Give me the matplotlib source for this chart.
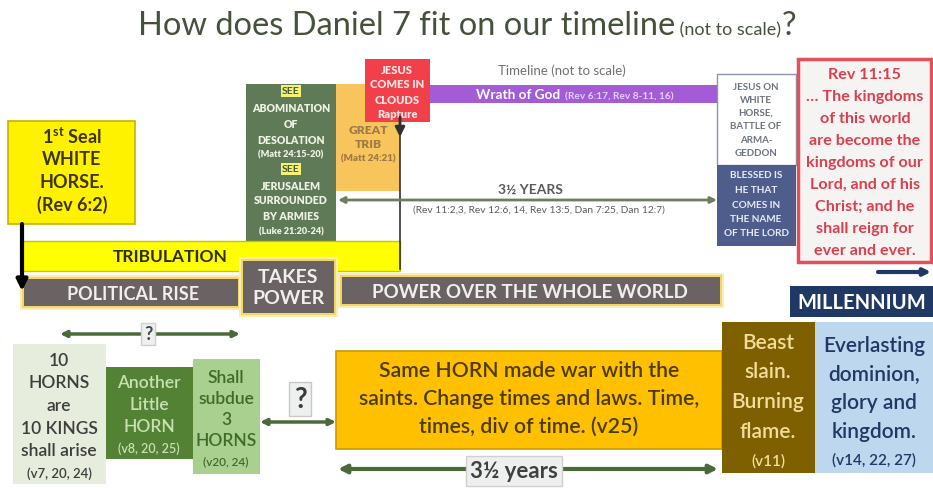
import matplotlib
matplotlib.use("Agg")
import matplotlib.pyplot as plt
from matplotlib.patches import Rectangle

plt.rcParams['font.family'] = ['Lato', 'DejaVu Sans']
plt.rcParams['mathtext.fontset'] = 'custom'
plt.rcParams['mathtext.rm'] = 'Lato'
plt.rcParams['mathtext.bf'] = 'Lato:bold'

# ---- text content ----
title_main = "How does Daniel 7 fit on our timeline"
title_note = "(not to scale)"
seal_lines = [r"1$^{\mathbf{st}}$ Seal", "WHITE", "HORSE.", "(Rev 6:2)"]
abom_lines = ["SEE", "ABOMINATION", "OF", "DESOLATION", "(Matt 24:15-20)",
              "SEE", "JERUSALEM", "SURROUNDED", "BY ARMIES", "(Luke 21:20-24)"]
trib_lines = ["GREAT", "TRIB", "(Matt 24:21)"]
clouds_lines = ["JESUS", "COMES IN", "CLOUDS", "Rapture"]
wrath_label = "Wrath of God"
wrath_refs = "(Rev 6:17, Rev 8-11, 16)"
timeline_note = "Timeline (not to scale)"
horse_lines = ["JESUS ON", "WHITE", "HORSE,", "BATTLE OF", "ARMA-", "GEDDON"]
blessed_lines = ["BLESSED IS", "HE THAT", "COMES IN", "THE NAME", "OF THE LORD"]
rev_lines = ["Rev 11:15", "\u2026 The kingdoms", "of this world", "are become the",
             "kingdoms of our", "Lord, and of his", "Christ; and he",
             "shall reign for", "ever and ever."]
years_label = "3\u00bd YEARS"
years_refs = "(Rev 11:2,3, Rev 12:6, 14, Rev 13:5, Dan 7:25, Dan 12:7)"
bars = ["TRIBULATION", "POLITICAL RISE", "TAKES\nPOWER",
        "POWER OVER THE WHOLE WORLD", "MILLENNIUM"]
horns10_lines = ["10", "HORNS", "are", "10 KINGS", "shall arise", "(v7, 20, 24)"]
little_lines = ["Another", "Little", "HORN", "(v8, 20, 25)"]
subdue_lines = ["Shall", "subdue", "3", "HORNS", "(v20, 24)"]
war_lines = ["Same HORN made war with the",
             "saints. Change times and laws. Time,",
             "times, div of time. (v25)"]
beast_lines = ["Beast", "slain.", "Burning", "flame.", "(v11)"]
everlasting_lines = ["Everlasting", "dominion,", "glory and", "kingdom.", "(v14, 22, 27)"]
half_years = "3\u00bd years"

fig = plt.figure(figsize=(9.33, 4.89), dpi=100)
ax = fig.add_axes([0, 0, 1, 1])
ax.set_xlim(0, 933)
ax.set_ylim(489, 0)
ax.axis('off')


def box(x0, y0, x1, y1, fc, ec=None, lw=0.0, z=2):
    ax.add_patch(Rectangle((x0, y0), x1 - x0, y1 - y0, fc=fc,
                           ec=ec if ec else fc, lw=lw, zorder=z))


def glow_box(x0, y0, x1, y1, fc, z=3):
    box(x0 - 4, y0 - 4, x1 + 4, y1 + 4, '#fbeeb0', z=z)
    box(x0 - 2, y0 - 2, x1 + 2, y1 + 2, '#f2d66a', z=z)
    box(x0, y0, x1, y1, fc, z=z)


def stack(xc, y0, dy, lines, size, color, weight='bold', sizes=None, z=5):
    for i, t in enumerate(lines):
        s = sizes[i] if sizes else size
        ax.text(xc, y0 + i * dy, t, fontsize=s, color=color, fontweight=weight,
                ha='center', va='center', zorder=z)


def arrow(x0, y0, x1, y1, color, lw=3, style='<|-|>', ms=12, z=4):
    ax.annotate('', xy=(x1, y1), xytext=(x0, y0), zorder=z,
                arrowprops=dict(arrowstyle=style, color=color, lw=lw,
                                mutation_scale=ms, shrinkA=0, shrinkB=0))


def seq_text(xc, y, parts):
    objs = [ax.text(0, y, t, fontsize=s, color=c, fontweight=w,
                    va='baseline', ha='left', zorder=6) for t, s, c, w in parts]
    fig.canvas.draw()
    r = fig.canvas.get_renderer()
    widths = [o.get_window_extent(r).width for o in objs]
    x = xc - sum(widths) / 2
    for o, wd in zip(objs, widths):
        o.set_x(x)
        x += wd


# ---- title ----
tc = '#45513b'
seq_text(467, 35, [(title_main, 23.5, tc, 'normal'), (" " + title_note, 13, tc, 'normal'),
                   ("?", 23.5, tc, 'normal')])

# ---- upper section ----
# 1st seal
box(8, 122, 135, 225, '#fff200', '#c8b200', 1.2)
stack(72, 137, 22.5, seal_lines, 13, '#3d3500', 'bold')
arrow(22, 225, 22, 292, 'black', lw=3, style='-|>', ms=16)

# abomination
box(246, 85, 336, 242, '#5e7a56')
for i, t in enumerate(abom_lines):
    y = [92, 108, 124, 140, 155, 170, 186, 201, 217, 232][i]
    if t == "SEE":
        ax.text(291, y, t, fontsize=7.5, color='#4a5a30', fontweight='bold',
                ha='center', va='center', zorder=6,
                bbox=dict(boxstyle='square,pad=0.1', fc='#f5f07a', ec='none'))
    else:
        ax.text(291, y, t, fontsize=6.6 if t.startswith('(') else 7.6,
                color='#eef2e4', fontweight='heavy', ha='center', va='center', zorder=6)

# great trib
box(336, 85, 400, 192, '#f8c45c')
stack(368, 130, 14.5, trib_lines, 8.5, '#a07a45', 'heavy', sizes=[8.7, 8.7, 7])

# jesus comes in clouds
box(365, 60, 430, 123, '#f2404a')
stack(397, 70, 15, clouds_lines, 8, '#ffe2e2', 'heavy')
ax.plot([400, 400], [123, 270], color='#303030', lw=1.2, zorder=4)
arrow(400, 118, 400, 138, '#303030', lw=2, style='-|>', ms=14, z=6)

# wrath of god
box(430, 86, 718, 104, '#a35bd6')
seq_text(575, 99, [(wrath_label, 9.8, 'white', 'bold'), ("  " + wrath_refs, 7.3, '#e6cdf7', 'bold')])
ax.text(562, 71, timeline_note, fontsize=9.5, color='#707070', ha='center', va='center')

# jesus on white horse / blessed
box(717, 75, 796, 166, 'white', '#8a96a8', 1.0)
stack(756, 87, 13.3, horse_lines, 7, '#6c7380', 'bold')
box(717, 166, 796, 247, '#4f5d8c')
stack(756, 176, 14.5, blessed_lines, 7.2, '#e8ebf5', 'bold')

# rev 11:15
box(798, 60, 931, 263, '#f6f3f3', '#e2505c', 2.5)
stack(865, 75, 22, rev_lines, 11.6, '#d9404f', 'bold')

# 3 1/2 YEARS
arrow(338, 201, 717, 201, '#6f7d5c', lw=2, style='<|-|>', ms=9)
ax.text(530, 190, years_label, fontsize=10, color='#5a5a5a', fontweight='bold',
        ha='center', va='center')
ax.text(539, 210, years_refs, fontsize=7.3, color='#5a5a5a', ha='center', va='center')

# tribulation bar
box(22, 242, 400, 272, '#ffff00', '#c9c600', 1.0, z=2)
ax.text(170, 257, bars[0], fontsize=12.5, color='#2e2e10', fontweight='bold',
        ha='center', va='center', zorder=5)

# political rise / takes power / power over world
glow_box(24, 280, 238, 307, '#6b6363')
ax.text(133, 294, bars[1], fontsize=13, color='#f0eeee', fontweight='bold',
        ha='center', va='center', zorder=6)
glow_box(342, 278, 720, 305, '#6b6363')
ax.text(530, 292, bars[3], fontsize=13.5, color='#f0eeee', fontweight='bold',
        ha='center', va='center', zorder=6)
glow_box(243, 262, 334, 314, '#6b6363', z=4)
ax.text(288, 288, bars[2], fontsize=14, color='#f0eeee', fontweight='bold',
        ha='center', va='center', zorder=6, linespacing=1.25)

# millennium
arrow(878, 273, 931, 273, '#1f3864', lw=3, style='-|>', ms=10)
box(790, 287, 933, 318, '#1f3864')
ax.text(862, 303, bars[4], fontsize=14.5, color='white', fontweight='bold',
        ha='center', va='center', zorder=6)

# ---- lower section ----
green = '#4b6a3a'
arrow(60, 335, 240, 335, green, lw=2.5, style='<|-|>', ms=9)
ax.text(148, 335, "?", fontsize=13, color='#444444', fontweight='bold', ha='center',
        va='center', zorder=6, bbox=dict(boxstyle='square,pad=0.15', fc='#eef0f0', ec='#d0d0d0'))

box(13, 345, 106, 485, '#e6eddc')
stack(59, 361, 22.5, horns10_lines, 12.5, '#3e3e3e', 'semibold',
      sizes=[12.5] * 5 + [9.5])
box(106, 368, 193, 460, '#548235')
stack(149, 383, 22, little_lines, 12.5, '#c9e0b4', 'semibold',
      sizes=[12.5] * 3 + [9])
box(193, 360, 260, 475, '#a9d08e')
stack(226, 378, 21, subdue_lines, 12.5, '#3f6b2a', 'semibold',
      sizes=[12.5] * 4 + [8.5])

arrow(260, 423, 336, 423, green, lw=2.5, style='<|-|>', ms=9)
ax.text(300, 400, "?", fontsize=20, color='#3a3a3a', fontweight='bold', ha='center',
        va='center', zorder=6, bbox=dict(boxstyle='square,pad=0.15', fc='#eef0f0', ec='#c8c8c8'))

box(336, 352, 722, 450, '#ffc000', '#c99a00', 1.2)
stack(529, 371, 28, war_lines, 15.3, '#4d3a00', 'semibold')

box(722, 323, 815, 474, '#7f6000')
stack(768, 343, 29.5, beast_lines, 15, '#f2dd9c', 'semibold', sizes=[15] * 4 + [11])
box(815, 323, 933, 474, '#bdd7ee')
stack(874, 346, 28.5, everlasting_lines, 15, '#1f3864', 'semibold', sizes=[15] * 4 + [11])

arrow(338, 470, 718, 470, green, lw=3, style='<|-|>', ms=12)
ax.text(514, 472, half_years, fontsize=16, color='#404040', fontweight='bold',
        ha='center', va='center', zorder=6,
        bbox=dict(boxstyle='square,pad=0.2', fc='#eef0f0', ec='#d0d0d0'))

fig.savefig('out.png', dpi=100)
